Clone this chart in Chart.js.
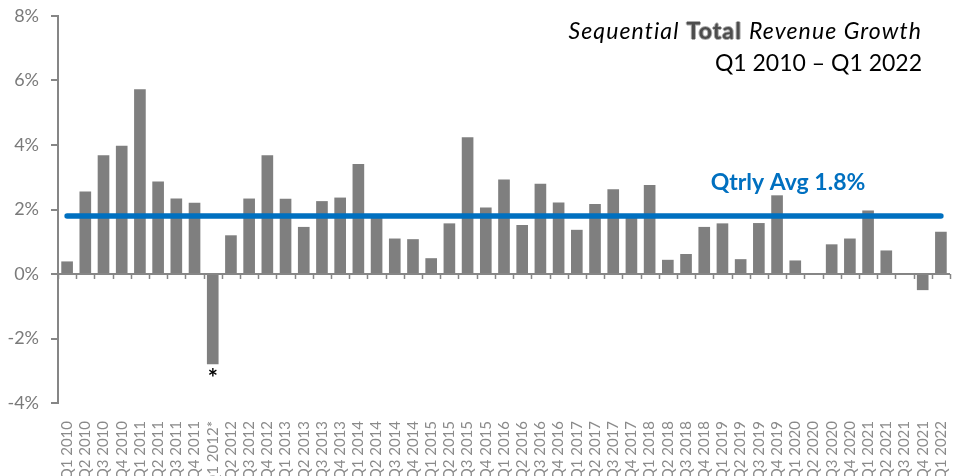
<!DOCTYPE html>
<html>
<head>
<meta charset="utf-8">
<script src="https://cdn.jsdelivr.net/npm/chart.js@4.4.1/dist/chart.umd.min.js"></script>
<style>
    html, body { margin: 0; padding: 0; background: #fff; }
    #wrap { position: relative; width: 954px; height: 476px; }
    #title {
        position: absolute; right: 32px; top: 14px;
        text-align: right; font-family: Lato, sans-serif; font-size: 23px;
        line-height: 32px; color: #000;
    }
    #title .l1 { letter-spacing: 1.1px; }
    #title .it { font-style: italic; }
    #title .tot {
        font-weight: bold; color: #4d4d4d;
        text-shadow: 1px 0 0 #aaa, -1px 0 0 #aaa, 0 1px 0 #aaa, 0 -1px 0 #aaa;
    }
</style>
</head>
<body>
<div id="wrap">
    <canvas id="chart" width="954" height="476"></canvas>
    <div id="title">
        <span class="l1"><span class="it">Sequential</span> <span class="tot">Total</span> <span class="it">Revenue Growth</span></span><br>
        Q1 2010 – Q1 2022
    </div>
</div>
<script>
// Sequential total revenue growth, % per quarter
const quarters = [
    'Q1 2010', 'Q2 2010', 'Q3 2010', 'Q4 2010',
    'Q1 2011', 'Q2 2011', 'Q3 2011', 'Q4 2011',
    'Q1 2012*', 'Q2 2012', 'Q3 2012', 'Q4 2012',
    'Q1 2013', 'Q2 2013', 'Q3 2013', 'Q4 2013',
    'Q1 2014', 'Q2 2014', 'Q3 2014', 'Q4 2014',
    'Q1 2015', 'Q2 2015', 'Q3 2015', 'Q4 2015',
    'Q1 2016', 'Q2 2016', 'Q3 2016', 'Q4 2016',
    'Q1 2017', 'Q2 2017', 'Q3 2017', 'Q4 2017',
    'Q1 2018', 'Q2 2018', 'Q3 2018', 'Q4 2018',
    'Q1 2019', 'Q2 2019', 'Q3 2019', 'Q4 2019',
    'Q1 2020', 'Q2 2020', 'Q3 2020', 'Q4 2020',
    'Q1 2021', 'Q2 2021', 'Q3 2021', 'Q4 2021',
    'Q1 2022'
];

const growth = [
    0.39, 2.56, 3.68, 3.98,
    5.73, 2.87, 2.34, 2.21,
    -2.80, 1.20, 2.34, 3.68,
    2.33, 1.46, 2.26, 2.37,
    3.41, 1.78, 1.10, 1.08,
    0.49, 1.57, 4.24, 2.06,
    2.93, 1.52, 2.80, 2.22,
    1.37, 2.17, 2.63, 1.76,
    2.76, 0.44, 0.62, 1.46,
    1.57, 0.46, 1.58, 2.44,
    0.42, 0.03, 0.92, 1.10,
    1.97, 0.73, 0.02, -0.50,
    1.31
];

const qtrlyAvg = 1.8;
const footnoteIndex = 8;   // Q1 2012*

const axisGray = '#868686';

// tick marks along the 0% line, the average label and the footnote star
const extras = {
    id: 'extras',
    afterDatasetsDraw(chart) {
        const { ctx, scales: { x, y } } = chart;
        const y0 = y.getPixelForValue(0);

        ctx.save();
        ctx.strokeStyle = axisGray;
        ctx.lineWidth = 1.5;
        for (let i = 0; i <= quarters.length; i++) {
            const px = Math.round(x.getPixelForValue(i - 0.5)) + 0.5;
            ctx.beginPath();
            ctx.moveTo(px, y0);
            ctx.lineTo(px, y0 + 5);
            ctx.stroke();
        }

        ctx.fillStyle = '#0070c0';
        ctx.font = 'bold 23px Lato, sans-serif';
        ctx.textAlign = 'center';
        ctx.textBaseline = 'alphabetic';
        ctx.fillText('Qtrly Avg ' + qtrlyAvg + '%', x.getPixelForValue(39.6), y.getPixelForValue(qtrlyAvg) - 26);

        const bar = chart.getDatasetMeta(1).data[footnoteIndex];
        ctx.fillStyle = '#000';
        ctx.font = 'bold 24px Lato, sans-serif';
        ctx.textBaseline = 'top';
        ctx.fillText('*', bar.x, bar.y + 3);
        ctx.restore();
    }
};

new Chart(document.getElementById('chart'), {
    type: 'bar',
    data: {
        labels: quarters,
        datasets: [
            {
                type: 'line',
                label: 'Qtrly Avg',
                data: quarters.map(() => qtrlyAvg),
                borderColor: '#0070c0',
                borderWidth: 5.5,
                borderCapStyle: 'round',
                pointRadius: 0,
                fill: false,
                order: 0
            },
            {
                label: 'Sequential Growth',
                data: growth,
                backgroundColor: '#7f7f7f',
                categoryPercentage: 1,
                barPercentage: 0.64,
                order: 1
            }
        ]
    },
    options: {
        responsive: false,
        animation: false,
        layout: { padding: { left: 0, right: 4, top: 16, bottom: 0 } },
        plugins: {
            legend: { display: false },
            tooltip: { enabled: false }
        },
        scales: {
            x: {
                grid: { display: false },
                border: { display: false },
                ticks: {
                    minRotation: 90,
                    maxRotation: 90,
                    autoSkip: false,
                    padding: 10,
                    color: '#8a8a8a',
                    font: { family: 'Lato, sans-serif', size: 15 }
                },
                afterFit: (s) => { s.height = 73; s.paddingLeft = 0; s.paddingRight = 0; }
            },
            y: {
                min: -4,
                max: 8,
                ticks: {
                    stepSize: 2,
                    padding: 12,
                    color: '#7a7a7a',
                    font: { family: 'Lato, sans-serif', size: 18 },
                    callback: (v) => v + '%'
                },
                grid: {
                    drawOnChartArea: true,
                    color: (c) => c.tick && c.tick.value === 0 ? axisGray : 'rgba(0,0,0,0)',
                    lineWidth: 2,
                    tickColor: axisGray,
                    tickLength: 7
                },
                border: { display: true, color: axisGray, width: 2 },
                afterFit: (s) => { s.width = 58; s.paddingTop = 0; s.paddingBottom = 0; }
            }
        }
    },
    plugins: [extras]
});
</script>
</body>
</html>
